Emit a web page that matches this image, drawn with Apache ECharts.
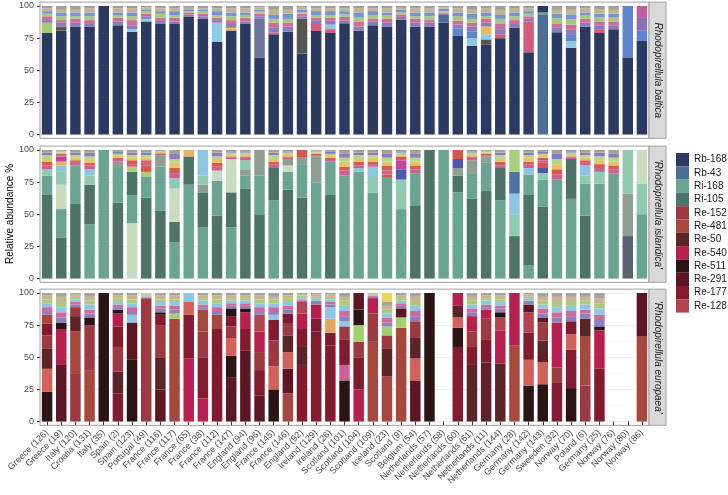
<!DOCTYPE html>
<html><head><meta charset="utf-8">
<script src="https://cdn.jsdelivr.net/npm/echarts@6/dist/echarts.min.js"></script>
<style>html,body{margin:0;padding:0;background:#fff}#c{width:728px;height:495px}</style>
</head><body><div id="c"></div>
<script>
const categories = ["Greece (126)","Greece (19)","Italy (120)","Croatia (131)","Italy (35)","Spain (2)","Spain (123)","Portugal (49)","France (116)","France (117)","France (65)","France (38)","France (112)","France (147)","England (94)","England (96)","France (145)","France (146)","England (92)","Ireland (129)","Ireland (26)","Scotland (101)","Scotland (104)","Scotland (109)","Iceland (23)","Scotland (9)","Belgium (54)","Netherlands (57)","Netherlands (58)","Netherlands (60)","Netherlands (61)","Netherlands (11)","Netherlands (144)","Germany (28)","Germany (142)","Germany (143)","Sweeden (32)","Norway (70)","Poland (6)","Germany (25)","Norway (76)","Norway (80)","Norway (86)"];
const yTicks = [0, 25, 50, 75, 100];
const panelNames = ["Rhodopirellula baltica", "'Rhodopirellula islandica'", "'Rhodopirellula europaea'"];
const legendNames = ["Rb-168","Rb-43","Ri-168","Ri-105","Re-152","Re-481","Re-50","Re-540","Re-511","Re-291","Re-177","Re-128"];

// ---- Rhodopirellula baltica ----
const B_rb168 = [79,81,84,84,100,85,80,88,86,86, 91.5,90,72,81,86,60,78,80,63,80.5, 79,86.5,81,85,84,89.5,84,84,87,76.6, 69,70,75,83,64,0,79.5,67.5,84,79, 82,60,72.7];
const B_rb43 =  [0,0,0,0,0,0,0,0,0,0, 0,0,0,0,0,0,0,0,0,0, 0,0,0,0,0,0,0,0,6,0, 0,0,0,0,0,93,0,0,0,0, 0,0,0];
const B_slate = [0,0,0,0,0,0,0,0,0,0, 0,0,0,0,0,30,0,0,0,0, 0,0,0,0,0,0,0,0,0,0, 0,0,0,0,0,0,0,0,0,0, 0,0,0];
const B_darkgrey = [0,3,0,0,0,0,0,0,0,0, 0,0,0,0,0,0,0,0,27,0, 0,0,0,0,0,0,0,0,0,0, 0,4,0,0,0,0,0,0,0,0, 0,0,0];
const B_lightgreen = [8,0,0,0,0,0,0,0,0,0, 0,0,0,0,0,0,0,0,0,0, 0,0,0,0,0,0,0,0,0,0, 0,0,0,0,0,0,0,0,0,0, 0,0,0];
const B_pink = [0,0,0,0,0,0,0,0,0,0, 0,0,0,0,0,0,1.5,0,0,5.5, 3,0,0,0,0,0,0,0,0,0, 0,0,3,0,24,0,0,0,0,3, 0,0,0];
const B_lightblue = [0,0,0,0,0,0,2,2,0,0, 0,0,15,0,0,0,0,0,0,0, 3.5,0,0,0,0,0,0,0,0,0, 6,4,0,0,0,0,0,5,0,0, 0,0,0];
const B_blue = [0,0,0,0,0,0,0,0,0,0, 0,0,0,0,0,0,0,0,0,0, 0,0,0,0,0,0,0,0,0,6, 5,0,0,0,0,0,0,5,0,0, 0,40,8.5];
const B_yellow = [0,0,0,0,0,0,0,0,0,0, 0,0,0,2,0,0,0,0,0,0, 0,0,0,0,0,0,0,0,0,0, 0,6,0,0,0,0,0,0,0,0, 0,0,0];
const B_mauve = [0,0,0,0,0,0,0,0,0,0, 0,0,0,0,0,0,0,0,0,0, 0,0,0,0,0,0,0,0,0,0, 0,0,0,0,0,0,0,0,0,0, 0,0,9.5];
const B_magenta = [0,0,0,0,0,0,0,0,0,0, 0,0,0,0,0,0,0,0,0,0, 0,0,0,0,0,0,0,0,0,0, 0,0,0,0,0,0,0,0,0,0, 0,0,9.3];
const B_teal = [0,0,0,0,0,0,0,0,0,0, 0,0,0,0,0,0,0,0,0,0, 0,0,0,0,0,0,0,0,0,0, 0,0,0,0,0,2,0,0,0,0, 0,0,0];
const B_navyTop = [0,0,0,0,0,0,0,0,0,0, 0,0,0,0,0,0,0,0,0,0, 0,0,0,0,0,0,0,0,0,0, 0,0,0,0,0,5,0,0,0,0, 0,0,0];
const B_s1 = [2,3,3,2,0,3,3,2,3,2, 2,2,2,3,2,2,4,4,2,3, 3,2,3,3,3,2,3,3,1,3, 4,3,4,3,2,0,4,4,3,3, 3,0,0];
const B_s2 = [3,2,3,3,0,3,4,2,2,3, 1.5,2,2,3,3,2,3.5,3,2,2, 2.5,3,4,2,3,2,3,2,1,3, 3,3,4,3,2,0,3,4,3,3, 3,0,0];
const B_s3 = [2,3,2,3,0,2,3,2,3,2, 1,2,2,3,2,2,3,3,1,2, 2,2,3,3,3,1.5,2,3,1,3.4, 3,2,4,3,2,0,4,4,3,3, 3,0,0];
const B_s4 = [2,3,3,3,0,2,3,1,2,3, 1.5,1,3,3,2,1,3,4,2,3, 3,2.5,4,3,2,2,3,3,2,3, 4,3,3,3,2,0,3.5,4,2,3, 3,0,0];
const B_s5 = [2,2,2,3,0,3,3,2,2,2, 1,1,2,3,3,2,4,3,2,2, 2,2,3,2,3,1.5,3,3,1,3, 3,3,4,3,2,0,3,3.5,3,3, 3,0,0];
const B_s6 = [2,3,3,2,0,2,2,1,2,2, 1.5,2,2,2,2,1,3,3,1,2, 2,2,2,2,2,1.5,2,2,1,2, 3,2,3,2,2,0,3,3,2,3, 3,0,0];

// ---- 'Rhodopirellula islandica' ----
const I_sageB = [0,0,0,0,0,0,43,0,0,0, 0,0,0,0,0,0,0,0,0,0, 0,0,0,0,0,0,0,0,0,0, 0,0,0,0,0,0,0,0,0,0, 0,0,0];
const I_slateB = [0,0,0,0,0,0,0,0,0,0, 0,0,0,0,0,0,0,0,0,0, 0,0,0,0,0,0,0,0,0,0, 0,0,0,0,0,0,0,0,0,0, 0,33,0];
const I_tealB = [0,0,0,42,100,0,22,0,0,28, 73,40,0,40,0,0,61,0,0,75, 0,80,83,67,79,54,0,0,100,67, 0,0,61,0,10,0,77,62,0,74, 82,0,50];
const I_ri105 = [65,32,58,31,0,59,18,63,53,16, 22,27,49,27,70,50,25,69,63,0, 65,0,0,0,0,0,57,100,0,13, 62,68,25,33,55,56,0,31,49,0, 0,0,0];
const I_ri168 = [15,22,30,0,0,27,0,16,34,0, 0,0,27,0,10,30,0,14,26,0, 26,0,0,0,0,0,25,0,0,0, 20,22,0,0,16,21,0,0,25,0, 0,0,0];
const I_sage = [0,19,0,0,0,0,0,0,0,26, 0,0,8,26,0,0,0,5,0,0, 0,0,0,0,0,0,0,0,0,0, 0,0,0,0,0,0,0,0,0,0, 0,0,0];
const I_grey = [0,0,0,0,0,5,0,0,9,0, 0,6,0,0,5,20,0,5,5,20, 0,0,0,0,0,0,0,0,0,6, 10,5,0,0,0,0,0,0,0,0, 0,33,0];
const I_mint = [5,10,0,7,0,0,0,0,0,8, 0,7,0,0,7,0,0,0,0,0, 0,0,0,12,0,23,0,0,0,0, 0,0,0,17,0,5,0,0,6,9, 0,34,24];
const I_lightblue = [0,5,0,5,0,0,0,0,0,0, 0,20,0,0,0,0,0,0,0,0, 0,0,3,8,0,0,0,0,0,0, 0,0,0,16,5,0,0,0,8,0, 0,0,0];
const I_steelblue = [0,0,0,0,0,0,0,0,0,0, 0,0,0,0,0,0,0,0,0,0, 0,0,0,0,0,0,0,0,0,0, 0,0,0,17,0,0,0,0,0,0, 0,0,0];
const I_indigo = [0,0,0,0,0,0,0,0,0,0, 0,0,0,0,0,0,0,0,0,0, 0,0,0,0,0,8,0,0,0,7, 0,0,0,0,0,4,0,0,0,0, 0,0,0];
const I_lightgreen = [0,0,0,0,0,0,4,4,0,0, 0,0,0,0,0,0,0,0,0,0, 0,0,0,0,0,0,0,0,0,0, 0,0,0,17,0,0,0,0,0,0, 0,0,0];
const I_orange = [0,3,0,0,0,0,0,0,0,0, 5,0,0,0,0,0,0,0,0,0, 0,0,0,0,0,0,0,0,0,0, 0,0,0,0,0,0,0,0,0,0, 0,0,0];
const I_red = [0,0,0,0,0,0,0,5,0,0, 0,0,0,0,0,0,0,0,6,0, 0,0,0,0,2,0,0,0,0,7, 0,0,0,0,0,4,0,0,0,0, 0,0,0];
const I_magenta = [0,4,0,0,0,0,0,0,0,0, 0,0,0,0,0,0,0,0,0,0, 0,0,0,0,0,7,0,0,0,0, 0,0,0,0,0,0,0,0,0,0, 0,0,0];
const I_sageTop = [0,0,0,0,0,0,0,0,0,0, 0,0,0,0,0,0,0,0,0,0, 0,0,0,0,0,0,0,0,0,0, 0,0,0,0,0,0,0,0,0,0, 0,0,26];
const I_s1 = [3,1,2,3,0,2,2,2,1,4, 0,0,3,1,2,0,3,1,0,1, 2,4,2,2,3,1,3,0,0,0, 2,1,2,0,3,2,4,1,2,3, 3,0,0];
const I_s2 = [3,1,2,2,0,1,3,2,0.5,4, 0,0,3,1,1,0,2,1,0,1, 1,3,3,2,4,2,3,0,0,0, 1,1,3,0,2,2,4,1,2,3, 3,0,0];
const I_s3 = [2,1,2,3,0,2,2,2,1,4, 0,0,3,1,1,0,2,2,0,1, 2,4,2,3,3,1,3,0,0,0, 1,1,2,0,3,2,4,1,2,3, 3,0,0];
const I_s4 = [3,1,2,2,0,1,2,2,0.5,3, 0,0,2,2,2,0,3,1,0,1, 1,3,3,2,3,2,3,0,0,0, 2,1,3,0,2,1,4,2,2,3, 3,0,0];
const I_s5 = [2,0.5,2,3,0,2,2,2,0.5,4, 0,0,3,1,1,0,2,1,0,0.5, 2,3,2,2,3,1,3,0,0,0, 1,0.5,2,0,2,2,4,1,2,3, 3,0,0];
const I_s6 = [2,0.5,2,2,0,1,2,2,0.5,3, 0,0,2,1,1,0,2,1,0,0.5, 1,3,2,2,3,1,3,0,0,0, 1,0.5,2,0,2,1,3,1,2,2, 3,0,0];

// ---- 'Rhodopirellula europaea' ----
const E_dark = [23,0,0,0,100,0,48,0,0,0, 0,0,0,0,0,0,25,0,0,0, 0,32,0,0,0,0,0,100,0,0, 0,0,0,0,28,29,0,26,0,0, 0,0,0];
const E_mauve = [0,0,0,0,0,0,0,0,0,0, 0,0,0,0,0,0,0,0,0,0, 0,12,0,0,0,0,0,0,0,0, 0,0,0,0,0,0,0,0,0,0, 0,0,0];
const E_crimsonB = [0,0,0,0,0,0,0,0,0,0, 49,18,0,0,0,0,0,0,0,0, 0,0,25,0,0,0,0,0,0,0, 0,0,0,0,0,0,0,0,0,0, 0,0,0];
const E_darkbrownB = [0,0,0,0,0,0,0,0,0,0, 0,0,0,0,0,0,0,0,0,0, 0,0,0,0,0,0,0,0,0,0, 44,46,45,0,0,0,0,0,0,0, 0,0,0];
const E_redB = [0,0,37,0,0,0,0,96,0,0, 0,0,0,0,0,0,0,0,0,0, 0,0,0,0,0,0,0,0,0,0, 0,0,0,0,0,0,0,0,28,0, 0,0,0];
const E_brickB = [0,0,33,40,0,0,0,0,0,80, 0,0,0,0,0,0,0,22,0,0, 0,0,0,62,35,73,0,0,0,0, 0,0,0,59,0,0,0,0,38,0, 0,0,66];
const E_maroon = [0,44,0,0,0,0,29,0,25,0, 0,0,0,34,55,20,0,19,0,0, 0,0,0,0,0,0,32,0,0,0, 0,0,0,0,0,0,0,0,0,0, 0,0,34];
const E_wine = [0,0,0,0,0,22,0,0,0,0, 34,32,72,0,17,20,0,0,44,70, 59,20,25,0,0,0,0,0,0,58, 14,18,0,0,0,0,30,30,0,41, 0,0,0];
const E_dark2 = [0,0,0,0,0,0,0,0,0,0, 0,0,0,17,0,0,0,0,0,0, 0,0,0,0,0,0,0,0,0,15, 0,0,0,0,0,0,0,0,0,0, 0,0,0];
const E_salmon = [18,0,0,0,0,0,0,0,0,0, 10,0,0,14,0,0,18,13,0,0, 0,0,0,0,0,0,17,0,0,8, 0,0,0,0,20,17,0,12,0,0, 0,0,0];
const E_darkbrown = [16,0,12,0,0,17,0,0,25,0, 0,0,0,0,0,0,0,13,14,0, 0,0,0,0,22,0,16,0,0,9, 0,0,0,0,0,17,0,0,14,0, 0,0,0];
const E_red = [10,0,7,35,0,19,0,0,25,0, 0,20,0,9,0,14,20,9,0,0, 0,10,12,22,10,0,13,0,0,0, 12,16,0,0,0,14,12,0,0,0, 0,0,0];
const E_wine2 = [9,0,0,0,0,16,0,0,8,0, 0,0,0,8,0,0,16,8,14,10, 10,0,0,0,0,0,0,0,0,0, 0,0,0,0,21,0,0,10,0,0, 0,0,0];
const E_brick = [7,0,0,0,0,0,0,0,0,0, 0,17,11,0,0,0,0,0,0,0, 0,0,0,0,0,0,0,0,0,0, 0,0,0,0,0,0,0,0,0,0, 0,0,0];
const E_crimson = [0,28,0,0,0,10,0,0,0,0, 0,0,0,0,13,16,0,0,12,11, 0,0,0,12,0,0,0,0,0,10, 12,7,26,41,0,0,35,0,0,30, 0,0,0];
const E_rose = [0,0,0,0,0,0,0,0,0,0, 0,0,0,0,0,13,0,0,9,0, 0,0,0,0,0,0,0,0,0,0, 0,0,10,0,16,0,0,0,0,0, 0,0,0];
const E_orange = [0,0,0,0,0,0,0,0,0,0, 0,0,0,0,0,0,0,0,0,0, 11,0,0,0,0,0,0,0,0,0, 0,0,0,0,0,0,0,0,0,0, 0,0,0];
const E_lightgreen = [0,0,0,0,0,0,0,0,0,4, 0,0,0,0,0,0,0,0,0,0, 0,0,13,0,7,8,0,0,0,0, 0,0,0,0,0,0,0,0,0,0, 0,0,0];
const E_lightblue = [0,0,0,0,0,0,6,0,0,0, 7,0,0,0,0,0,4,0,0,0, 9,4,0,0,0,0,0,0,0,0, 0,0,0,0,0,0,0,0,0,0, 0,0,0];
const E_darkTop = [0,5,0,6,0,3,0,0,2,0, 0,0,0,6,3,0,0,0,0,0, 0,0,12,0,0,0,0,0,0,0, 0,0,4,0,0,0,0,0,0,3, 0,0,0];
const E_wineTop = [0,0,0,0,0,0,0,0,0,0, 0,0,0,0,0,0,0,0,0,0, 0,0,13,0,0,7,0,0,0,0, 0,0,0,0,6,4,0,0,0,0, 0,0,0];
const E_s1 = [3,4,2,3,0,2,3,0.5,3,3, 0,2,3,2,2,3,3,3,1,2, 2,4,0,1,3,2,4,0,0,0, 3,2,3,0,2,3,4,4,4,5, 0,0,0];
const E_s2 = [3,4,2,3,0,2,3,0.5,2,3, 0,2,3,2,2,3,3,3,1,1, 2,4,0,1,4,2,4,0,0,0, 3,2,2,0,1,4,4,4,3,4, 0,0,0];
const E_s3 = [3,4,2,4,0,2,3,0.5,3,3, 0,3,3,2,2,3,3,3,1,2, 2,4,0,0.5,3,2,4,0,0,0, 3,3,3,0,2,3,4,4,4,5, 0,0,0];
const E_s4 = [3,4,2,3,0,3,3,0.5,2,2, 0,2,3,2,2,3,3,3,2,1, 2,4,0,0.5,3,2,3,0,0,0, 3,2,2,0,1,3,4,3,3,4, 0,0,0];
const E_s5 = [3,4,2,3,0,2,3,0.5,3,3, 0,2,3,2,2,3,2,2,1,2, 2,3,0,0.5,3,2,4,0,0,0, 3,2,3,0,2,3,4,4,3,4, 0,0,0];
const E_s6 = [2,3,1,3,0,2,2,0.5,2,2, 0,2,2,2,2,2,3,2,1,1, 1,3,0,0.5,3,2,3,0,0,0, 3,2,2,0,1,3,3,3,3,4, 0,0,0];
const E_yellow = [0,0,0,0,0,0,0,1,0,0, 0,0,0,0,0,0,0,0,0,0, 0,0,0,0,7,0,0,0,0,0, 0,0,0,0,0,0,0,0,0,0, 0,0,0];

// ---- colours ----
const COL = {
  'Rb-168':'#2c3a62','Rb-43':'#4a6f96','Ri-168':'#6aa592','Ri-105':'#4d7466',
  'Re-152':'#9d3940','Re-481':'#a6483d','Re-50':'#5c2428','Re-540':'#b71f4f',
  'Re-511':'#2d1414','Re-291':'#5e1624','Re-177':'#831b30','Re-128':'#b1444f'
};

const panel1 = [
  ['Rb-168', B_rb168, COL['Rb-168']], ['Rb-43', B_rb43, COL['Rb-43']], ['b-slate', B_slate, '#6b7399'],
  ['b-darkgrey', B_darkgrey, '#55564f'], ['b-lightgreen', B_lightgreen, '#a6cc6c'], ['b-pink', B_pink, '#d25b7e'],
  ['b-lightblue', B_lightblue, '#8ccbe2'], ['b-blue', B_blue, '#5f86cc'], ['b-yellow', B_yellow, '#e6b85a'],
  ['b-mauve', B_mauve, '#8e70b0'], ['b-magenta', B_magenta, '#c35ba2'], ['b-teal', B_teal, '#6aa593'],
  ['Rb-168', B_navyTop, COL['Rb-168']],
  ['b-s1', B_s1, '#8a7cbb'], ['b-s2', B_s2, '#cf6d99'], ['b-s3', B_s3, '#a9c97a'],
  ['b-s4', B_s4, '#7594d2'], ['b-s5', B_s5, '#c4b393'], ['b-s6', B_s6, '#a3a098']
];
const panel2 = [
  ['i-sageB', I_sageB, '#c9dcc2'], ['i-slateB', I_slateB, '#5b6272'], ['Ri-168', I_tealB, COL['Ri-168']],
  ['Ri-105', I_ri105, COL['Ri-105']], ['Ri-168', I_ri168, COL['Ri-168']], ['i-sage', I_sage, '#c9dcc2'],
  ['i-grey', I_grey, '#8e9e90'], ['i-mint', I_mint, '#8ecbb0'], ['i-lightblue', I_lightblue, '#8dc4e2'],
  ['i-steelblue', I_steelblue, '#4f72a4'], ['i-indigo', I_indigo, '#5455b0'], ['i-lightgreen', I_lightgreen, '#a8d07a'],
  ['i-orange', I_orange, '#e6b45a'], ['i-red', I_red, '#d9564d'], ['i-magenta', I_magenta, '#c0489a'],
  ['i-sageTop', I_sageTop, '#c9dcc2'],
  ['i-s1', I_s1, '#cc5f93'], ['i-s2', I_s2, '#d8594f'], ['i-s3', I_s3, '#e5c561'],
  ['i-s4', I_s4, '#b8d58c'], ['i-s5', I_s5, '#8b7cbf'], ['i-s6', I_s6, '#a6a08f']
];
const panel3 = [
  ['Re-511', E_dark, COL['Re-511']], ['e-mauve', E_mauve, '#cc5f9c'], ['Re-540', E_crimsonB, COL['Re-540']],
  ['Re-50', E_darkbrownB, COL['Re-50']], ['Re-152', E_redB, COL['Re-152']], ['Re-481', E_brickB, COL['Re-481']],
  ['Re-291', E_maroon, COL['Re-291']], ['Re-177', E_wine, COL['Re-177']], ['Re-511', E_dark2, COL['Re-511']],
  ['e-salmon', E_salmon, '#d4605a'], ['Re-50', E_darkbrown, COL['Re-50']], ['Re-152', E_red, COL['Re-152']],
  ['Re-177', E_wine2, COL['Re-177']], ['Re-481', E_brick, COL['Re-481']], ['Re-540', E_crimson, COL['Re-540']],
  ['Re-128', E_rose, COL['Re-128']], ['e-orange', E_orange, '#e3a85c'], ['e-lightgreen', E_lightgreen, '#a5cf6e'],
  ['e-lightblue', E_lightblue, '#8ec6e4'], ['Re-511', E_darkTop, COL['Re-511']], ['Re-291', E_wineTop, COL['Re-291']],
  ['e-s1', E_s1, '#8f7fbd'], ['e-s2', E_s2, '#d06a9a'], ['e-s3', E_s3, '#8fc6e3'],
  ['e-s4', E_s4, '#a9cc7c'], ['e-s5', E_s5, '#c8b48f'], ['e-s6', E_s6, '#a8a39a'],
  ['e-yellow', E_yellow, '#e2d860']
];

const FONT = "'Liberation Sans', Arial, Helvetica, sans-serif";
const LEFT = 40, WIDTH = 609, PH = 128.5, PAD = 3.85;
const TOPS = [6, 150, 293];

const series = [];
[panel1, panel2, panel3].forEach((list, p) => {
  list.forEach(([name, data, color]) => {
    series.push({
      type: 'bar', name: name, data: data, stack: 'p' + p,
      xAxisIndex: p, yAxisIndex: p, barWidth: '74%',
      itemStyle: { color: color }, emphasis: { disabled: true },
      silent: true
    });
  });
});

const grids = TOPS.map(t => ({ left: LEFT, top: t, width: WIDTH, height: PH }));
const xAxes = TOPS.map((t, p) => ({
  type: 'category', gridIndex: p, data: categories,
  offset: p === 2 ? PAD : 0,
  axisLine: { show: false },
  axisTick: { show: p === 2, alignWithLabel: true, length: 4, lineStyle: { color: '#333', width: 1 } },
  axisLabel: { show: p === 2, interval: 0, rotate: 45, fontSize: 9, color: '#4d4d4d', fontFamily: FONT, margin: 6 },
  splitLine: { show: false }
}));
const yAxes = TOPS.map((t, p) => ({
  type: 'value', gridIndex: p, min: yTicks[0], max: yTicks[yTicks.length - 1], interval: 25,
  axisLine: { show: false },
  axisTick: { show: true, length: 3, lineStyle: { color: '#333', width: 1 } },
  axisLabel: { fontSize: 9, color: '#4d4d4d', fontFamily: FONT, margin: 6 },
  splitLine: { show: true, lineStyle: { color: '#ebebeb', width: 0.8 } },
  minorTick: { show: false, splitNumber: 2 },
  minorSplitLine: { show: true, lineStyle: { color: '#f5f5f5', width: 0.5 } }
}));

const graphics = [];
TOPS.forEach((t, p) => {
  graphics.push({ type: 'rect', silent: true, z: 100,
    shape: { x: LEFT, y: t - PAD, width: WIDTH, height: PH + 2 * PAD },
    style: { fill: 'none', stroke: '#a0a0a0', lineWidth: 1 } });
  graphics.push({ type: 'rect', silent: true, z: 100,
    shape: { x: LEFT + WIDTH, y: t - PAD, width: 17, height: PH + 2 * PAD },
    style: { fill: '#d9d9d9', stroke: '#a0a0a0', lineWidth: 1 } });
  graphics.push({ type: 'text', silent: true, z: 101,
    x: LEFT + WIDTH + 8.5, y: t + PH / 2, rotation: -Math.PI / 2,
    style: { text: panelNames[p], font: 'italic 10px ' + FONT, fill: '#1a1a1a', align: 'center', verticalAlign: 'middle' } });
});
graphics.push({ type: 'text', silent: true, z: 101,
  x: 10, y: 214, rotation: Math.PI / 2,
  style: { text: 'Relative abundance %', font: '10px ' + FONT, fill: '#000', align: 'center', verticalAlign: 'middle' } });

const chart = echarts.init(document.getElementById('c'), null, { renderer: 'canvas' });
chart.setOption({
  animation: false,
  backgroundColor: '#ffffff',
  grid: grids, xAxis: xAxes, yAxis: yAxes, series: series,
  legend: {
    data: legendNames, orient: 'vertical', left: 676, top: 153, padding: 0,
    icon: 'rect', itemWidth: 13, itemHeight: 13.3, itemGap: 0,
    selectedMode: false,
    textStyle: { fontSize: 10, color: '#1a1a1a', fontFamily: FONT, lineHeight: 13.3 }
  },
  graphic: graphics
});
</script></body></html>
